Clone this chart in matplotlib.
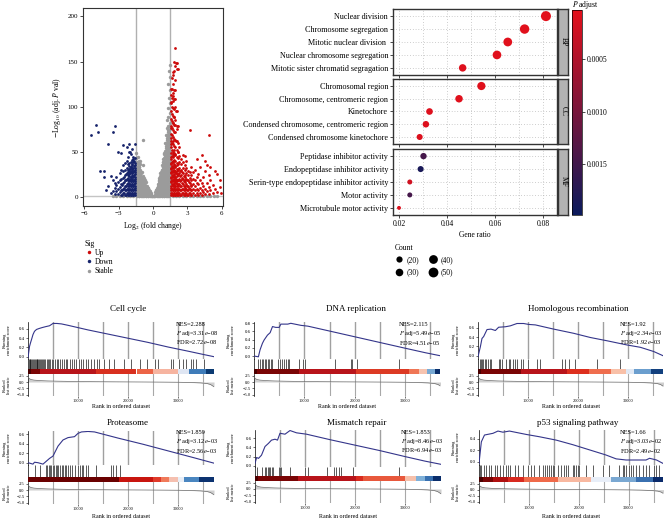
import numpy as np
import matplotlib
matplotlib.use("Agg")
import matplotlib.pyplot as plt
from matplotlib.colors import LinearSegmentedColormap, Normalize
from matplotlib.cm import ScalarMappable
from matplotlib.lines import Line2D

# ---------------- volcano data (hand) ----------------
# x column -> list of -log10 adj p values
stable_cols = {
    -1.45: [3, 9, 15, 20, 26, 32, 37, 43, 48], -1.4: [1, 6, 11, 16, 21, 27, 33, 39],
    -1.35: [4, 10, 17, 24, 31, 38, 44], -1.3: [3, 8, 13, 18, 24, 30, 36],
    -1.25: [1, 6, 12, 19, 26, 33, 40], -1.2: [1, 6, 11, 16, 21, 27, 33],
    -1.15: [3, 9, 15, 22, 29, 36], -1.1: [3, 8, 13, 18, 24, 30, 40],
    -1.05: [1, 6, 12, 19, 26], -1.0: [1, 6, 11, 16, 21, 27],
    -0.95: [3, 9, 15, 22], -0.9: [3, 8, 13, 18, 23, 35], -0.85: [1, 6, 11, 17, 63],
    -0.8: [1, 6, 11, 16, 21], -0.75: [3, 9, 15], -0.7: [3, 8, 13, 18],
    -0.65: [1, 6, 11], -0.6: [1, 6, 11, 16], -0.55: [3, 9], -0.5: [2, 7, 12],
    -0.45: [1, 5, 10], -0.4: [1, 5, 10], -0.35: [3, 7], -0.3: [2, 6],
    -0.25: [1, 4], -0.2: [1, 4], -0.15: [2], -0.1: [1], -0.05: [0.5], 0.0: [0.3],
    0.05: [0.5], 0.1: [1], 0.15: [2], 0.2: [1, 5], 0.25: [3, 7], 0.3: [3, 8],
    0.35: [1, 5, 10], 0.4: [1, 6, 12], 0.45: [3, 8, 14], 0.5: [3, 9, 15, 19],
    0.55: [1, 6, 11, 17, 21], 0.6: [1, 6, 12, 18, 23], 0.65: [3, 9, 15, 21, 26],
    0.7: [3, 9, 15, 21, 27], 0.75: [1, 6, 12, 18, 24, 30], 0.8: [1, 6, 12, 18, 24, 30, 35],
    0.85: [3, 9, 15, 21, 27, 33, 38], 0.9: [3, 9, 15, 21, 27, 33, 39, 42],
    0.95: [1, 6, 12, 18, 24, 30, 36, 43, 47], 1.0: [1, 6, 12, 18, 24, 30, 36, 42, 48],
    1.05: [3, 9, 15, 21, 27, 33, 39, 45, 51, 60], 1.1: [3, 9, 15, 21, 27, 33, 39, 45, 51, 56],
    1.15: [1, 6, 12, 18, 24, 30, 36, 42, 48, 54, 60, 68], 1.2: [1, 6, 12, 18, 24, 30, 36, 42, 48, 54, 60, 65],
    1.25: [3, 9, 15, 21, 27, 33, 39, 45, 51, 57, 63, 69, 76, 85],
    1.3: [3, 9, 15, 21, 27, 33, 39, 45, 51, 57, 63, 69, 74, 98],
    1.35: [1, 6, 12, 18, 24, 30, 36, 42, 48, 54, 60, 66, 72, 78, 88, 125],
    1.4: [1, 6, 12, 18, 24, 30, 36, 42, 48, 54, 60, 66, 72, 78, 110, 140],
    1.45: [3, 9, 15, 21, 27, 33, 39, 45, 51, 57, 63, 69, 75, 82, 93, 104, 118, 133, 146],
    -3.5: [0.5], -3.2: [0.8], -2.9: [0.4], -2.6: [0.9], -2.3: [0.5], -2.0: [0.8],
    -1.7: [0.4], 1.7: [0.6], 2.0: [0.3], 2.3: [0.9], 2.6: [0.5], 2.9: [0.7],
    3.2: [0.4], 3.5: [0.8], 3.8: [0.5], 4.1: [0.6], 4.4: [0.3], 4.7: [0.7],
    5.0: [0.5], 5.3: [0.6], 5.6: [0.4],
}
up_cols = {
    1.55: [2, 7, 12, 17, 22, 27, 32, 37, 42, 48, 55, 62, 70, 78, 86, 95, 104, 113],
    1.6: [4, 10, 16, 21, 26, 31, 36, 44, 58, 65, 76, 105, 120],
    1.65: [4, 9, 14, 19, 24, 29, 34, 39, 45, 52, 60, 68, 76, 84, 92, 100, 110, 120, 132],
    1.7: [2, 8, 13, 18, 23, 28, 33, 40, 47, 62, 82, 112, 135],
    1.75: [2, 7, 12, 17, 22, 27, 32, 38, 44, 50, 58, 66, 74, 82, 90, 98, 106, 115, 125, 138],
    1.8: [4, 10, 15, 20, 25, 30, 36, 46, 52, 88, 140],
    1.85: [4, 9, 14, 19, 24, 29, 35, 41, 48, 56, 64, 72, 80, 88, 97, 108, 118, 150],
    1.9: [2, 7, 12, 17, 22, 27, 33, 46, 80, 108, 130],
    1.95: [2, 7, 12, 17, 22, 28, 34, 40, 47, 55, 63, 72, 85, 100, 118, 145, 165],
    2.0: [4, 9, 15, 20, 26, 62, 95, 148],
    2.05: [4, 9, 14, 19, 25, 31, 37, 44, 52, 62, 75, 95, 148],
    2.1: [2, 7, 12, 17, 23, 29, 35, 78, 142],
    2.15: [2, 7, 12, 18, 24, 30, 36, 43, 50, 60, 78, 142],
    2.22: [4, 9, 14, 19, 25, 31, 50],
    2.3: [4, 9, 14, 20, 26, 32, 38, 45, 55],
    2.38: [2, 7, 12, 17, 23, 29],
    2.45: [2, 7, 12, 18, 24, 30, 36, 42],
    2.52: [4, 9, 15, 21, 27],
    2.6: [4, 9, 14, 20, 26, 32, 38, 46],
    2.68: [2, 7, 12, 17, 23],
    2.75: [2, 7, 12, 18, 24, 30, 35],
    2.82: [4, 10, 16, 22, 45],
    2.9: [4, 9, 14, 20, 26, 32, 40],
    2.98: [2, 7, 12, 18],
    3.05: [2, 7, 12, 18, 24, 29],
    3.12: [4, 10, 16],
    3.2: [4, 9, 15, 21, 27, 74],
    3.28: [2, 7, 13],
    3.35: [2, 7, 12, 18, 24, 33],
    3.5: [4, 9, 14, 20, 27],
    3.65: [2, 7, 12, 18, 30],
    3.8: [4, 9, 15, 22, 42],
    3.95: [2, 8, 14, 25],
    4.1: [4, 10, 18, 33],
    4.25: [2, 8, 15, 46],
    4.4: [5, 12, 22],
    4.55: [3, 9, 28, 40],
    4.7: [6, 15, 35],
    4.85: [3, 11, 24, 68],
    5.0: [7, 19, 33],
    5.2: [4, 13],
    5.4: [9, 28],
    5.6: [5, 25],
    5.8: [11, 18],
    5.9: [4],
}
down_cols = {
    -1.55: [2, 7, 12, 17, 22, 27, 32, 37, 43, 59],
    -1.6: [4, 10, 15, 20, 25, 30, 35],
    -1.65: [4, 9, 14, 19, 24, 29, 34, 40],
    -1.7: [2, 7, 12, 17, 23, 28, 42],
    -1.75: [2, 7, 12, 17, 22, 27, 32, 38, 44],
    -1.8: [4, 9, 14, 20, 26, 31, 36],
    -1.85: [4, 9, 14, 19, 24, 29, 35, 41, 53],
    -1.9: [2, 7, 12, 17, 22, 28, 33],
    -1.95: [2, 7, 12, 17, 22, 27, 33, 39, 47],
    -2.0: [4, 9, 14, 20, 26, 31, 50],
    -2.05: [4, 9, 14, 19, 25, 31, 37, 50, 58],
    -2.1: [2, 7, 12, 17, 23, 29, 34],
    -2.15: [2, 7, 12, 18, 24, 30, 36, 44],
    -2.22: [4, 9, 15, 21, 27],
    -2.3: [4, 9, 14, 20, 26, 32, 40, 55],
    -2.38: [2, 7, 12, 18, 25],
    -2.45: [2, 7, 12, 18, 24, 30, 37],
    -2.52: [4, 10, 16, 22],
    -2.6: [4, 9, 15, 21, 28, 35, 57],
    -2.68: [2, 7, 13],
    -2.75: [2, 8, 14, 20, 30, 48],
    -2.9: [5, 11, 18, 26],
    -3.05: [3, 9, 16, 50],
    -3.2: [6, 13, 22],
    -3.35: [3, 10, 15, 78],
    -3.5: [6, 18, 72],
    -3.7: [4, 23],
    -3.9: [12, 59],
    -4.1: [7],
    -4.3: [28, 22],
    -4.6: [28],
    -4.8: [72],
    -5.0: [80],
    -5.4: [68],
}

# ---------------- GO enrichment data ----------------
bp_terms = ["Nuclear division", "Chromosome segregation", "Mitotic nuclear division ",
            "Nuclear chromosome segregation", "Mitotic sister chromatid segragation"]
bp_ratio = [0.0812, 0.0723, 0.0653, 0.0608, 0.0465]
bp_count = [52, 46, 40, 39, 29]
bp_padj = [4e-5, 5e-5, 5e-5, 6e-5, 8e-5]

cc_terms = ["Chromosomal region", "Chromosome, centromeric region", "Kinetochore",
            "Condensed chromosome, centromeric region", "Condensed chromosome kinetochore"]
cc_ratio = [0.0543, 0.0450, 0.0327, 0.0312, 0.0286]
cc_count = [35, 29, 23, 22, 19]
cc_padj = [6e-5, 7e-5, 8e-5, 9e-5, 1e-4]

mf_terms = ["Peptidase inhibitor activity", "Endopeptidase inhibitor activity",
            "Serin-type endopeptidase inhibitor activity", "Motor activity",
            "Microtubule motor activity"]
mf_ratio = [0.0302, 0.0290, 0.0245, 0.0245, 0.0200]
mf_count = [21, 19, 13, 13, 8]
mf_padj = [0.00145, 0.00185, 0.0002, 0.00145, 0.0001]

count_legend = [20, 30, 40, 50]

# ---------------- GSEA data ----------------
rank_x = [0, 200, 600, 1200, 2500, 4000, 6000, 9000, 13000, 18000, 23000, 27000,
          30000, 32500, 34500, 35800, 36500, 37200]
rank_metric = [2.3, 1.4, 1.0, 0.75, 0.55, 0.42, 0.32, 0.22, 0.13, 0.06, 0.0, -0.05,
               -0.1, -0.2, -0.35, -0.6, -1.0, -1.9]

cellcycle_rank = [0, 150, 300, 500, 700, 1000, 1300, 1700, 2200, 2800, 3500, 4300, 5000,
                  5800, 6700, 8000, 12000, 16000, 20000, 24000, 28000, 32000, 35000, 37200]
cellcycle_es = [-0.02, 0.10, 0.22, 0.30, 0.37, 0.48, 0.55, 0.59, 0.61, 0.63, 0.65, 0.67,
                0.72, 0.72, 0.71, 0.68, 0.58, 0.49, 0.40, 0.31, 0.21, 0.12, 0.05, 0.0]
cellcycle_hits = [150, 300, 450, 600, 800, 950, 1100, 1300, 1500, 1700, 1850, 2000, 2200,
                  2400, 2600, 2800, 3000, 3200, 3450, 3700, 3900, 4100, 4400, 4700, 5000,
                  5300, 5700, 6000, 6400, 6700, 7100, 7500, 7800, 8300, 8700, 9200, 9600,
                  10100, 10600, 11000, 11500, 12000, 12600, 13200, 13800, 14300, 15300,
                  16300, 17300, 19300, 20600, 22300, 23700, 25300, 26000, 28700, 29000,
                  30300, 31000, 31700, 32700, 33000, 33700, 35300]
cellcycle_edges = [0, 600, 2300, 13700, 21700, 25000, 30000, 32300, 35700, 37200]
cellcycle_colors = ["#4a0000", "#7a0505", "#b8141a", "#d8301f", "#ec6446", "#f6b4a0",
                    "#dfe6f3", "#3f7cb9", "#0b3a72"]

dna_rank = [0, 870, 1200, 1670, 2000, 2670, 3200, 3670, 4300, 5000, 5330, 6700, 7300,
            9300, 10700, 15000, 20000, 25000, 30000, 34000, 36800]
dna_es = [0.0, -0.02, 0.15, 0.31, 0.39, 0.51, 0.57, 0.72, 0.70, 0.70, 0.78, 0.78, 0.80,
          0.75, 0.73, 0.61, 0.47, 0.33, 0.19, 0.08, 0.01]
dna_hits = [870, 1130, 1530, 1870, 2130, 2470, 2730, 3000, 3330, 3670, 4800, 5200, 5530,
            6000, 6330, 6670, 7000, 9000, 9670, 10070, 16000, 19200, 19530, 20530, 28670]
dna_edges = [0, 600, 9000, 20300, 30700, 32700, 34300, 36000, 36900]
dna_colors = ["#4a0000", "#7a0505", "#b8141a", "#dc3a24", "#ef7656", "#f6c3af",
              "#78a9d3", "#0b2f6b"]

hr_rank = [0, 470, 800, 1130, 1800, 2600, 3470, 4130, 5470, 6470, 7800, 9130, 10130,
           11470, 15130, 19130, 22470, 25800, 29800, 32470, 35130, 37000]
hr_es = [-0.02, 0.19, 0.37, 0.41, 0.56, 0.57, 0.54, 0.61, 0.62, 0.64, 0.69, 0.69, 0.67,
         0.66, 0.57, 0.48, 0.39, 0.32, 0.23, 0.18, 0.09, 0.0]
hr_hits = [330, 530, 800, 1070, 1330, 1670, 2000, 2330, 2600, 4130, 4470, 4870, 5670,
           6130, 6470, 7000, 7400, 7800, 8670, 9000, 10000, 11800, 12470, 16800, 17470,
           18200, 19400, 23800, 28470]
hr_edges = [0, 600, 8500, 17700, 22100, 26600, 29500, 31100, 34500, 37000]
hr_colors = ["#4a0000", "#7a0505", "#b8141a", "#dd2f1e", "#ef6e4e", "#f8c0a8",
             "#e0e8f4", "#6b9ece", "#12407e"]

prot_rank = [0, 1000, 1300, 2000, 3000, 4300, 5000, 6000, 7000, 8000, 9300, 10000, 10700,
             12000, 13300, 18000, 23000, 28000, 33000, 37200]
prot_es = [0.0, -0.03, 0.01, -0.0, -0.03, 0.09, 0.14, 0.35, 0.48, 0.53, 0.55, 0.62, 0.65,
           0.66, 0.65, 0.52, 0.39, 0.25, 0.11, -0.01]
prot_hits = [1330, 2330, 3530, 3800, 4130, 4400, 4670, 5000, 5270, 5530, 5800, 6070, 6400,
             6730, 7000, 7330, 7670, 8070, 8470, 8870, 9330, 10070, 10400, 10730, 11070,
             11530, 12000, 13670, 16670, 17000, 17670, 18330]
prot_edges = [0, 18300, 25000, 26700, 28300, 30000, 31300, 34300, 37200]
prot_colors = ["#6a0000", "#c8150f", "#e03a2a", "#f07a5a", "#f5c0b0", "#e8eef7",
               "#4a86c0", "#0c3270"]

mmr_rank = [0, 330, 700, 1300, 2000, 2700, 3300, 4000, 4500, 5000, 6000, 7000, 8300,
            10300, 15000, 20000, 25000, 30000, 34000, 37200]
mmr_es = [0.05, 0.18, 0.16, 0.23, 0.42, 0.49, 0.56, 0.58, 0.56, 0.71, 0.69, 0.77, 0.72,
          0.69, 0.57, 0.45, 0.33, 0.20, 0.10, 0.03]
mmr_hits = [470, 1470, 2000, 2270, 2530, 2800, 3070, 3400, 3670, 4730, 5000, 5270, 7000,
            10000, 10670, 14470, 15800, 16130, 16870, 17130, 19530, 28800]
mmr_edges = [0, 600, 8700, 20300, 21700, 30000, 32300, 34000, 35700, 37200]
mmr_colors = ["#4a0000", "#7a0505", "#b8141a", "#d92b1e", "#e8583c", "#f6c0aa",
              "#7fb0d8", "#3870b0", "#0a2d6a"]

p53_rank = [0, 470, 1100, 2800, 3800, 4800, 6100, 9500, 12100, 15500, 18800, 22100, 25400,
            27500, 29500, 31500, 33500, 34200, 35600, 36900]
p53_es = [-0.03, 0.35, 0.47, 0.50, 0.54, 0.52, 0.54, 0.48, 0.44, 0.38, 0.30, 0.21, 0.12,
          0.05, 0.03, 0.03, 0.03, 0.06, 0.03, -0.03]
p53_hits = [130, 470, 930, 1470, 2000, 2470, 3130, 3600, 4130, 4800, 5470, 5800, 6130,
            7130, 7800, 8800, 9800, 10470, 11130, 12130, 12800, 13330, 13600, 14000, 14470,
            14800, 15130, 15800, 16470, 17130, 17470, 17800, 18800, 19130, 19470, 19800,
            20130, 21470, 22800, 24800, 26130, 28130, 28800, 29130, 29470, 30130, 30470,
            30800, 31470, 32130, 32800, 33470, 34130, 35130, 35470, 36130]
p53_edges = [0, 800, 2800, 5800, 9100, 15800, 22500, 26500, 31500, 34800, 36900]
p53_colors = ["#4a0000", "#7a0505", "#b01010", "#d82a20", "#ef6a4a", "#f8b8a0",
              "#e8eef8", "#7aa8d2", "#3a70b0", "#0a2a6a"]

gsea_titles = ["Cell cycle", "DNA replication", "Homologous recombination",
               "Proteasome", "Mismatch repair", "p53 signaling pathway"]
gsea_nes = ["2.288", "2.115", "1.92", "1.859", "1.853", "1.66"]
gsea_padj = ["3.31", "5.49", "2.34", "3.12", "8.46", "3.03"]
gsea_padj_exp = ["08", "05", "03", "03", "03", "02"]
gsea_fdr = ["2.72", "4.51", "1.92", "2.56", "6.94", "2.49"]
gsea_fdr_exp = ["08", "05", "03", "03", "03", "02"]

# ---------------- figure ----------------
plt.rcParams['font.family'] = ['Liberation Serif', 'DejaVu Serif']
plt.rcParams['mathtext.fontset'] = 'stix'

W, H = 666, 519
fig = plt.figure(figsize=(W / 100, H / 100), dpi=100)


def px_ax(x0, y0, x1, y1):
    return fig.add_axes([x0 / W, 1 - y1 / H, (x1 - x0) / W, (y1 - y0) / H])


def expand(cols):
    xs, ys = [], []
    for x, yl in cols.items():
        xs += [x] * len(yl)
        ys += yl
    return xs, ys


# volcano
ax = px_ax(83, 8, 223, 206)
sx, sy = expand(stable_cols)
ux, uy = expand(up_cols)
dx, dy = expand(down_cols)
ax.scatter(sx, sy, s=6, c='#9b9b9b', linewidths=0, zorder=2)
ax.scatter(dx, dy, s=4, c='#16236b', linewidths=0, zorder=3)
ax.scatter(ux, uy, s=4, c='#cc0a0a', linewidths=0, zorder=3)
for v in (-1.5, 1.5):
    ax.axvline(v, color='#b0b0b0', lw=1, zorder=1)
ax.axhline(1.3, color='#c4c4c4', lw=1, zorder=1)
ax.set_xlim(-6.1, 6.1)
ax.set_ylim(-10.3, 209.4)
ax.set_xticks([-6, -3, 0, 3, 6])
ax.set_yticks([0, 50, 100, 150, 200])
ax.tick_params(labelsize=5, length=2, width=0.5, pad=1.5)
for sp in ax.spines.values():
    sp.set_linewidth(0.8)
    sp.set_color('#333333')
ax.set_xlabel(r'Log$_2$ (fold change)', fontsize=5.5, labelpad=3)
ax.set_ylabel(r'$-$Log$_{10}$ (adj. $P$ val)', fontsize=5.5, labelpad=3)
handles = [Line2D([], [], ls='', marker='o', ms=2.5, mec='none', mfc=c)
           for c in ('#cc0a0a', '#16236b', '#9b9b9b')]
leg = ax.legend(handles, ['Up', 'Down', 'Stable'], title='Sig', fontsize=5.5,
                title_fontsize=5.5, frameon=False, loc='upper left',
                bbox_to_anchor=(81 / W, 1 - 236 / H), bbox_transform=fig.transFigure,
                handletextpad=0.3, labelspacing=0.15, handlelength=1.0,
                borderpad=0, alignment='left')

# GO dot plot
cmap = LinearSegmentedColormap.from_list('padj', ['#e3101b', '#0b1a5c'])
norm = Normalize(3.2e-5, 1.98e-3)
go_groups = [('BP', bp_terms, bp_ratio, bp_count, bp_padj, 9, 75),
             ('CC', cc_terms, cc_ratio, cc_count, cc_padj, 79, 144),
             ('MF', mf_terms, mf_ratio, mf_count, mf_padj, 149, 215)]
for label, terms, ratio, count, padj, top, bot in go_groups:
    ax = px_ax(393, top, 557, bot)
    ax.set_xlim(0.0175, 0.0858)
    ax.set_ylim(4.55, -0.55)
    ax.set_xticks([0.02, 0.04, 0.06, 0.08])
    ax.set_xticks([0.03, 0.05, 0.07], minor=True)
    ax.set_yticks(range(len(terms)))
    ax.set_yticklabels(terms, fontsize=5.9)
    ax.grid(True, which='both', axis='x', color='#a0a0a0', lw=0.5, ls=(0, (1, 3)))
    ax.grid(True, axis='y', color='#a0a0a0', lw=0.5, ls=(0, (1, 3)))
    ax.set_axisbelow(True)
    ax.scatter(ratio, range(len(terms)), s=count, c=padj, cmap=cmap, norm=norm,
               linewidths=0, zorder=3)
    ax.tick_params(axis='both', which='both', length=2, width=0.5, pad=1.5, labelsize=5.9)
    ax.tick_params(axis='x', which='minor', length=0)
    if label != 'MF':
        ax.tick_params(axis='x', labelbottom=False)
    else:
        ax.set_xticklabels(['0.02', '0.04', '0.06', '0.08'])
        ax.tick_params(axis='x', labelsize=5.5)
        ax.set_xlabel('Gene ratio', fontsize=5.5, labelpad=2)
    for sp in ax.spines.values():
        sp.set_linewidth(1)
        sp.set_color('#333333')
    sax = px_ax(558, top, 568, bot)
    sax.set_facecolor('#b3b3b3')
    sax.set_xticks([])
    sax.set_yticks([])
    for sp in sax.spines.values():
        sp.set_linewidth(1)
        sp.set_color('#333333')
    sax.text(0.55, 0.5, label, rotation=-90, ha='center', va='center', fontsize=5.5,
             transform=sax.transAxes)

cax = px_ax(572, 10, 582, 215)
cb = fig.colorbar(ScalarMappable(norm=norm, cmap=cmap), cax=cax)
cax.invert_yaxis()
cb.set_ticks([0.0005, 0.0010, 0.0015])
cb.ax.set_yticklabels(['0.0005', '0.0010', '0.0015'])
cb.ax.tick_params(labelsize=5.5, length=2, width=0.5, pad=1.5)
cb.outline.set_linewidth(0.5)
fig.text(572 / W, 1 - 5 / H, r'$P$ adjust', fontsize=5.5, ha='left', va='center')

ch = [Line2D([], [], ls='', marker='o', ms=np.sqrt(c), mfc='black', mec='none')
      for c in count_legend]
fig.legend(ch, ['(%d)' % c for c in count_legend], title='Count', ncol=2,
           fontsize=5.5, title_fontsize=5.5, frameon=False, loc='upper left',
           bbox_to_anchor=(391 / W, 1 - 240 / H), handletextpad=0.4,
           labelspacing=0.55, columnspacing=1.2, handlelength=1.2, borderpad=0,
           alignment='left')

# GSEA panels
gsea_data = [
    (cellcycle_rank, cellcycle_es, cellcycle_hits, cellcycle_edges, cellcycle_colors),
    (dna_rank, dna_es, dna_hits, dna_edges, dna_colors),
    (hr_rank, hr_es, hr_hits, hr_edges, hr_colors),
    (prot_rank, prot_es, prot_hits, prot_edges, prot_colors),
    (mmr_rank, mmr_es, mmr_hits, mmr_edges, mmr_colors),
    (p53_rank, p53_es, p53_hits, p53_edges, p53_colors),
]
# layout: x0, x1, xmax, title(x,y), score(top,bot), (v0,p0,v1,p1), yticks,
#         hits(top,bot), bar(top,bot), rank(top,bot), ylabel x, stats(x,y), xlabel y
layout = [
    (28, 214, 37200, (128, 309), (322, 359), (0.0, 356.7, 0.6, 329.0), [0, .2, .4, .6],
     (359, 369), (369, 374), (374, 396), 7, (176, 324), 407),
    (254, 440, 36900, (356, 309), (322, 359), (0.0, 356.0, 0.8, 323.3), [0, .2, .4, .6, .8],
     (359, 369), (369, 374), (374, 396), 231, (399, 325), 407),
    (478, 663, 37000, (578, 309), (322, 359), (0.0, 355.7, 0.6, 327.7), [0, .2, .4, .6],
     (359, 369), (369, 374), (374, 396), 456, (620, 324), 407),
    (28, 214, 37200, (128, 423), (431, 465), (0.0, 462.7, 0.6, 434.3), [0, .2, .4, .6],
     (465, 477), (477, 482), (482, 504), 7, (176, 433), 516),
    (255, 441, 37200, (357, 423), (430, 467), (0.0, 465.7, 0.6, 438.3), [0, .2, .4, .6],
     (467, 476), (476, 481), (481, 503), 231, (401, 432), 516),
    (479, 663, 36900, (578, 423), (430, 465), (0.0, 461.7, 0.4, 439.0), [0, .2, .4],
     (465, 477), (477, 482), (482, 503), 456, (620, 433), 516),
]
grid_x = [5000, 10000, 15000, 20000, 25000, 30000, 35000]

for i, (rk, es, hits, edges, colors) in enumerate(gsea_data):
    (x0, x1, xmax, tpos, sc, mp, yt, hb, bb, rb, ylx, stp, xly) = layout[i]
    v0, p0, v1, p1 = mp
    scale = (p0 - p1) / (v1 - v0)
    ylo = v0 - (sc[1] - p0) / scale
    yhi = v1 + (p1 - sc[0]) / scale

    a1 = px_ax(x0, sc[0], x1, sc[1])
    a1.plot(rk, es, color='#34358a', lw=0.8, zorder=3)
    for g in grid_x:
        a1.axvline(g, color='#a0a0a0', lw=1, zorder=1)
    a1.set_xlim(0, xmax)
    a1.set_ylim(ylo, yhi)
    a1.set_yticks(yt)
    a1.set_yticklabels(['%.1f' % t for t in yt])
    a1.set_xticks([])
    a1.tick_params(labelsize=3.5, length=1.5, width=0.4, pad=1)
    for k in ('top', 'right', 'bottom'):
        a1.spines[k].set_visible(False)
    a1.spines['left'].set_linewidth(0.5)
    a1.patch.set_alpha(0)
    fig.text(tpos[0] / W, 1 - tpos[1] / H, gsea_titles[i], fontsize=6.5,
             ha='center', va='center')
    fig.text(ylx / W, 1 - (sc[0] + sc[1]) / 2 / H, 'Running\nenrichment score',
             fontsize=3.2, rotation=90, ha='center', va='center', linespacing=1.0)
    stats = ['NES=' + gsea_nes[i],
             r'$P$ adj=' + gsea_padj[i] + r'$e$' + '\u2212' + gsea_padj_exp[i],
             'FDR=' + gsea_fdr[i] + r'$e$' + '\u2212' + gsea_fdr_exp[i]]
    for j, s in enumerate(stats):
        fig.text(stp[0] / W, 1 - (stp[1] + 9 * j) / H, s, fontsize=4.6,
                 ha='left', va='center')

    a2 = px_ax(x0, hb[0], x1, hb[1])
    a2.vlines(hits, 0, 1, color='black', lw=0.45)
    a2.set_xlim(0, xmax)
    a2.set_ylim(0, 1)
    a2.set_xticks([])
    a2.set_yticks([])
    for k in ('top', 'right', 'bottom'):
        a2.spines[k].set_visible(False)
    a2.spines['left'].set_linewidth(0.5)
    a2.patch.set_alpha(0)

    a3 = px_ax(x0, bb[0], x1, bb[1])
    for k in range(len(colors)):
        a3.axvspan(edges[k], edges[k + 1], color=colors[k], lw=0)
    a3.set_xlim(0, xmax)
    a3.axis('off')

    a4 = px_ax(x0, rb[0], x1, rb[1])
    a4.fill_between(rank_x, 0, rank_metric, color='#cfcfcf', lw=0, zorder=2)
    a4.plot(rank_x, rank_metric, color='#6a6a6a', lw=0.5, zorder=3)
    for g in grid_x:
        a4.axvline(g, color='#a8a8a8', lw=0.8, zorder=1)
    a4.set_xlim(0, xmax)
    a4.set_ylim(-5.6, 3.2)
    a4.set_yticks([2.5, 0, -2.5, -5.0])
    a4.set_yticklabels(['2.5', '0.0', '\u22122.5', '\u22125.0'])
    a4.set_xticks([10000, 20000, 30000])
    a4.tick_params(labelsize=3.2, length=1.5, width=0.4, pad=1)
    for k in ('top', 'right', 'bottom'):
        a4.spines[k].set_visible(False)
    a4.spines['left'].set_linewidth(0.5)
    a4.patch.set_alpha(0)
    fig.text(ylx / W, 1 - (rb[0] + rb[1]) / 2 / H, 'Ranked\nlist metric',
             fontsize=3.2, rotation=90, ha='center', va='center', linespacing=1.0)
    fig.text((x0 + x1) / 2 / W, 1 - xly / H, 'Rank in ordered dataset', fontsize=4.3,
             ha='center', va='center')

fig.savefig('out.png', dpi=100)
